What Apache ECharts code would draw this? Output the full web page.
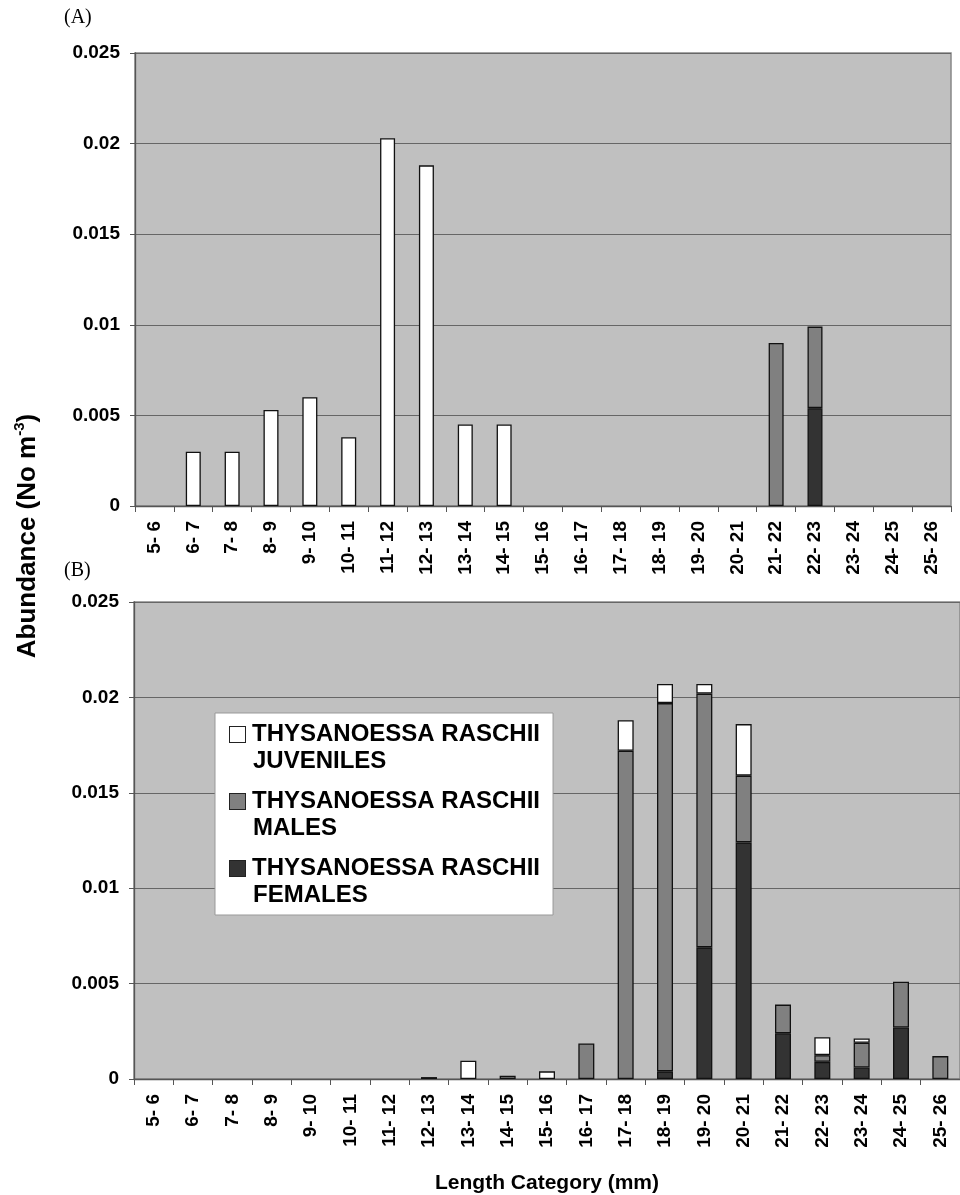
<!DOCTYPE html>
<html>
<head>
<meta charset="utf-8">
<script src="https://cdn.jsdelivr.net/npm/echarts@6/dist/echarts.min.js"></script>
<style>
  html, body { margin: 0; padding: 0; background: #ffffff; }
  #chart { width: 960px; height: 1195px; }
</style>
</head>
<body>
<div id="chart"></div>
<script>
// Length classes (mm)
const categories = ['5- 6', '6- 7', '7- 8', '8- 9', '9- 10', '10- 11', '11- 12', '12- 13', '13- 14',
  '14- 15', '15- 16', '16- 17', '17- 18', '18- 19', '19- 20', '20- 21', '21- 22', '22- 23',
  '23- 24', '24- 25', '25- 26'];

// Abundance (No m^-3), panel A
const juvenilesA = [0, 0.0030, 0.0030, 0.0053, 0.0060, 0.0038, 0.0203, 0.0188, 0.0045, 0.0045,
  0, 0, 0, 0, 0, 0, 0, 0, 0, 0, 0];
const malesA = [0, 0, 0, 0, 0, 0, 0, 0, 0, 0, 0, 0, 0, 0, 0, 0, 0.0090, 0.0045, 0, 0, 0];
const femalesA = [0, 0, 0, 0, 0, 0, 0, 0, 0, 0, 0, 0, 0, 0, 0, 0, 0, 0.0054, 0, 0, 0];

// Abundance (No m^-3), panel B
const juvenilesB = [0, 0, 0, 0, 0, 0, 0, 0, 0.00096, 0, 0.0004, 0, 0.0016, 0.0010, 0.0005, 0.0027,
  0, 0.00094, 0.00022, 0, 0];
const malesB = [0, 0, 0, 0, 0, 0, 0, 0, 0, 0.00017, 0, 0.00186, 0.0172, 0.0193, 0.0133, 0.0035,
  0.0015, 0.00035, 0.0013, 0.0024, 0.0012];
const femalesB = [0, 0, 0, 0, 0, 0, 0, 0.0001, 0, 0, 0, 0, 0, 0.0004, 0.0069, 0.0124, 0.0024,
  0.0009, 0.0006, 0.0027, 0];

const yMin = 0, yMax = 0.025, yStep = 0.005;

const NAME_J = 'THYSANOESSA RASCHII JUVENILES';
const NAME_M = 'THYSANOESSA RASCHII MALES';
const NAME_F = 'THYSANOESSA RASCHII FEMALES';
const fills = { [NAME_J]: '#ffffff', [NAME_M]: '#808080', [NAME_F]: '#333333' };
const legendKeys = { [NAME_J]: 'mj', [NAME_M]: 'mm', [NAME_F]: 'mf' };

const FONT = '"Liberation Sans", Arial, sans-serif';

function barSeries(name, values, panel, width) {
  return {
    name: name,
    type: 'bar',
    stack: 'panel' + panel,
    xAxisIndex: panel,
    yAxisIndex: panel,
    barWidth: width,
    data: values.map(v => (v > 0 ? v : '-')),
    itemStyle: { color: fills[name], borderColor: '#111111', borderWidth: 1.3 },
    emphasis: { disabled: true },
    animation: false
  };
}

function xAxisFor(panel, withName) {
  const ax = {
    type: 'category',
    gridIndex: panel,
    data: categories,
    boundaryGap: true,
    axisLine: { show: true, lineStyle: { color: '#555555', width: 1.3 } },
    axisTick: { show: true, length: 6, lineStyle: { color: '#555555' } },
    axisLabel: {
      interval: 0, rotate: 90, margin: 15,
      fontFamily: FONT, fontSize: 19, fontWeight: 'bold', color: '#000000'
    },
    splitLine: { show: false }
  };
  if (withName) {
    ax.name = 'Length Category (mm)';
    ax.nameLocation = 'middle';
    ax.nameGap = 94;
    ax.nameTextStyle = { fontFamily: FONT, fontSize: 21, fontWeight: 'bold', color: '#000000' };
  }
  return ax;
}

function yAxisFor(panel) {
  return {
    type: 'value',
    gridIndex: panel,
    min: yMin, max: yMax, interval: yStep,
    axisLine: { show: true, lineStyle: { color: '#555555', width: 1.3 } },
    axisTick: { show: true, length: 5, lineStyle: { color: '#555555' } },
    axisLabel: {
      margin: 15, fontFamily: FONT, fontSize: 19, fontWeight: 'bold', color: '#000000',
      formatter: v => String(+v.toFixed(3))
    },
    splitLine: { show: true, lineStyle: { color: '#666666', width: 1 } }
  };
}

const legendRich = {
  t: { fontFamily: FONT, fontSize: 24, fontWeight: 'bold', color: '#000000', lineHeight: 27, padding: [0, 0, 0, 7] },
  g: { width: 16, height: 16, lineHeight: 27 }
};
Object.keys(legendKeys).forEach(n => {
  legendRich[legendKeys[n]] = {
    width: 15, height: 15, backgroundColor: fills[n],
    borderColor: '#222222', borderWidth: 1, lineHeight: 27
  };
});

const option = {
  backgroundColor: '#ffffff',
  animation: false,
  grid: [
    { left: 135, top: 53, width: 816, height: 453, show: true,
      backgroundColor: '#c0c0c0', borderColor: '#888888', borderWidth: 1.5 },
    { left: 134, top: 602, width: 832, height: 480, show: true,
      backgroundColor: '#c0c0c0', borderColor: '#888888', borderWidth: 1.5 }
  ],
  xAxis: [xAxisFor(0, false), xAxisFor(1, true)],
  yAxis: [yAxisFor(0), yAxisFor(1)],
  legend: {
    data: [NAME_J, NAME_M, NAME_F],
    orient: 'vertical',
    left: 215,
    top: 713,
    padding: [8, 13, 6, 10],
    itemGap: 13,
    itemWidth: 0,
    itemHeight: 0,
    itemStyle: { opacity: 0, borderWidth: 0 },
    backgroundColor: '#ffffff',
    borderColor: '#999999',
    borderWidth: 1,
    selectedMode: false,
    textStyle: { rich: legendRich, lineHeight: 27 },
    formatter: function (name) {
      const cut = name.lastIndexOf(' ');
      return '{' + legendKeys[name] + '|}{t|' + name.slice(0, cut) + '}\n{g|}{t|' + name.slice(cut + 1) + '}';
    }
  },
  graphic: [
    { type: 'text', left: 64, top: 8,
      style: { text: '(A)', fontFamily: '"Liberation Serif", "Times New Roman", serif', fontSize: 20, fill: '#000000' } },
    { type: 'text', left: 64, top: 561,
      style: { text: '(B)', fontFamily: '"Liberation Serif", "Times New Roman", serif', fontSize: 20, fill: '#000000' } },
    { type: 'text', x: 28, y: 536, rotation: Math.PI / 2,
      style: {
        text: '{a|Abundance (No m}{s|-3}{a|)}',
        align: 'center', verticalAlign: 'middle',
        rich: {
          a: { fontFamily: FONT, fontSize: 26, fontWeight: 'bold', fill: '#000000', lineHeight: 32 },
          s: { fontFamily: FONT, fontSize: 15, fontWeight: 'bold', fill: '#000000', verticalAlign: 'top', lineHeight: 32 }
        }
      } }
  ],
  series: [
    barSeries(NAME_F, femalesA, 0, 15),
    barSeries(NAME_M, malesA, 0, 15),
    barSeries(NAME_J, juvenilesA, 0, 15),
    barSeries(NAME_F, femalesB, 1, 16),
    barSeries(NAME_M, malesB, 1, 16),
    barSeries(NAME_J, juvenilesB, 1, 16)
  ]
};

const chart = echarts.init(document.getElementById('chart'), null, { renderer: 'canvas' });
chart.setOption(option);
</script>
</body>
</html>
